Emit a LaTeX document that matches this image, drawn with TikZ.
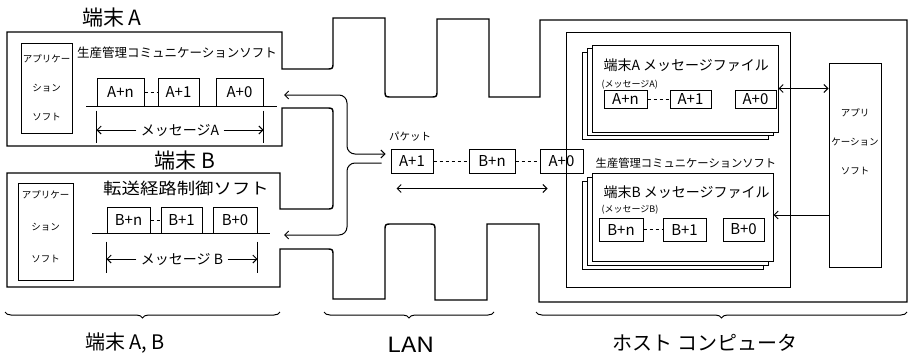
\documentclass[tikz,border=0pt]{standalone}
\usepackage{fontspec}
\setmainfont{Noto Sans CJK JP}
\usetikzlibrary{arrows.meta,positioning,decorations.pathreplacing}

\tikzset{
  pkt/.style={draw,fill=white,line width=1pt,inner sep=0pt,font=\fontsize{15}{15}\selectfont},
  appbox/.style={draw,line width=1pt,inner sep=0pt},
  apptxt/.style={align=center,inner sep=0pt},
  sheet/.style={draw,fill=white,line width=1pt},
  lbl/.style={inner sep=0pt},
  wall/.style={line width=1.4pt},
  brc/.style={decorate,decoration={brace,mirror,amplitude=6pt},line width=1pt},
}
\newcommand{\fs}[1]{\fontsize{#1}{#1}\selectfont}

\begin{document}
\begin{tikzpicture}[x=1pt,y=-1pt,>={Straight Barb[length=4pt,width=8pt]},line width=1pt]
  \useasboundingbox (0,0) rectangle (912,356);
  % terminals, LAN and host wall
  \draw[wall] (7,32) -- (7,146) -- (282,146) -- (282,108)
    -- (326,108) .. controls (333,108) .. (333,115)
    -- (333,202) .. controls (333,209) .. (326,209)
    -- (280,209) -- (280,173) -- (7,173) -- (7,287) -- (280,287) -- (280,249)
    -- (326,249) .. controls (333,249) .. (333,256)
    -- (333,299) -- (385,299)
    -- (385,231) .. controls (385,224) .. (392,224)
    -- (428,224) .. controls (435,224) .. (435,231)
    -- (435,300) -- (487,300) -- (487,224) -- (539,224) -- (539,302) -- (907,302)
    -- (907,20) -- (540,20) -- (540,97) -- (489,97) -- (489,19) -- (437,19)
    -- (437,90) .. controls (437,97) .. (430,97)
    -- (392,97) .. controls (385,97) .. (385,90)
    -- (385,18) -- (333,18)
    -- (333,62) .. controls (333,69) .. (326,69)
    -- (282,69) -- (282,32) -- cycle;

  % terminal A
  \node[lbl,font=\fs{21}] (nameA) at (112,18) {端末 A};
  \node[appbox,minimum width=51,minimum height=90] (appA) at (46.5,88) {};
  \node[apptxt,font=\fontsize{9.5}{29}\selectfont] at (appA) {アプリケー\\ション\\ソフト};
  \node[lbl,font=\fs{12.5}] (softA) at (177,53) {生産管理コミュニケーションソフト};
  \node[pkt,minimum width=47,minimum height=28] (tAn) at (120.5,92) {A+n};
  \node[pkt,minimum width=41,minimum height=28] (tA1) at (178.5,92) {A+1};
  \node[pkt,minimum width=47,minimum height=28] (tA0) at (239.5,92) {A+0};
  \draw (86,106) -- (277,106);
  \draw[dashed] (tAn) -- (tA1);
  \draw ([yshift=-4pt]tAn.south west) -- ++(0,32);
  \draw ([yshift=-4pt]tA0.south east) -- ++(0,32);
  \node[lbl,font=\fs{14}] (msgA) at (180,130) {メッセージA};
  \draw[->] ([xshift=-4pt]msgA.west) -- (msgA.west -| tAn.west);
  \draw[->] ([xshift=4pt]msgA.east) -- (msgA.east -| tA0.east);

  % terminal B
  \node[lbl,font=\fs{21}] (nameB) at (185,161) {端末 B};
  \node[appbox,minimum width=55,minimum height=97] (appB) at (45.5,231.5) {};
  \node[apptxt,font=\fontsize{9.5}{32}\selectfont] at (45.5,227) {アプリケー\\ション\\ソフト};
  \node[lbl,font=\fs{16}] (softB) at (186,188) {\scalebox{1.15}[1]{転送経路制御ソフト}};
  \node[pkt,minimum width=43,minimum height=26] (tBn) at (128.5,220) {B+n};
  \node[pkt,minimum width=41,minimum height=26] (tB1) at (181.5,220) {B+1};
  \node[pkt,minimum width=44,minimum height=26] (tB0) at (235,220) {B+0};
  \draw (92,233) -- (270,233);
  \draw[dashed] (tBn) -- (tB1);
  \draw ([yshift=-8pt]tBn.south west) -- ++(0,31);
  \draw ([yshift=-8pt]tB0.south east) -- ++(0,31);
  \node[lbl,font=\fs{14}] (msgB) at (182,259) {メッセージ B};
  \draw[->] ([xshift=-4pt]msgB.west) -- (msgB.west -| tBn.west);
  \draw[->] ([xshift=4pt]msgB.east) -- (msgB.east -| tB0.east);

  % LAN
  \coordinate (gateA) at (284,95);
  \coordinate (gateB) at (284,235);
  \node[lbl,font=\fs{10.5}] (pktlbl) at (410,137) {パケット};
  \node[pkt,minimum width=42,minimum height=24] (lA1) at (412,161) {A+1};
  \node[pkt,minimum width=46,minimum height=24] (lBn) at (492,161) {B+n};
  \node[pkt,minimum width=43,minimum height=24] (lA0) at (561.5,161) {A+0};
  \draw[dashed] (lA1) -- (lBn);
  \draw[dashed] (lBn) -- (lA0);
  \draw[<->,rounded corners=8pt] (gateA) -- (347,95) -- (347,154) -- ([xshift=-5pt,yshift=7pt]lA1.west);
  \draw[->,rounded corners=8pt] ([xshift=-9pt,yshift=-2pt]lA1.west) -- (347,163) -- (347,235) -- (gateB);
  \draw[<->] ([xshift=6pt,yshift=-15pt]lA1.south west) -- ([xshift=8pt,yshift=-15pt]lA0.south west);

  % host computer
  \draw (566,32) rectangle (790,287);
  \foreach \d in {10,5} {
    \draw[sheet] (592-\d,45+0.7*\d) rectangle +(186,87);
    \draw[sheet] (592-\d,173+0.8*\d) rectangle +(181,88);
  }
  \node[sheet,minimum width=186,minimum height=87,inner sep=0pt] (fileA) at (685,88.5) {};
  \node[sheet,minimum width=181,minimum height=88,inner sep=0pt] (fileB) at (682.5,217) {};
  \node[lbl,anchor=west,font=\fs{14}] at (603,65) {端末A メッセージファイル};
  \node[lbl,anchor=west,font=\fs{9}] at (601,85) {(メッセージA)};
  \node[pkt,minimum width=43,minimum height=18] (hAn) at (625.5,99) {A+n};
  \node[pkt,minimum width=41,minimum height=18] (hA1) at (690.5,99) {A+1};
  \node[pkt,minimum width=41,minimum height=18] (hA0) at (755.5,99) {A+0};
  \draw[dashed] (hAn) -- (hA1);
  \node[lbl,font=\fs{11.3}] (softH) at (686,163) {生産管理コミュニケーションソフト};
  \node[lbl,anchor=west,font=\fs{14}] at (603,192) {端末B メッセージファイル};
  \node[lbl,anchor=west,font=\fs{9}] at (601,210) {(メッセージB)};
  \node[pkt,minimum width=44,minimum height=23] (hBn) at (621,229.5) {B+n};
  \node[pkt,minimum width=43,minimum height=23] (hB1) at (684.5,229.5) {B+1};
  \node[pkt,minimum width=41,minimum height=23] (hB0) at (743.5,229.5) {B+0};
  \draw[dashed] (hBn) -- (hB1);
  \node[appbox,minimum width=52,minimum height=204] (appH) at (855,165) {};
  \node[apptxt,font=\fontsize{9.5}{29}\selectfont] at (855,142) {アプリ\\ケーション\\ソフト};
  \draw[<->] (fileA.east) -- (fileA.east -| appH.west);
  \draw[->] ([yshift=2pt]fileB.east -| appH.west) -- ([yshift=2pt]fileB.east);

  % braces
  \draw[brc] (5,312) -- (280,312);
  \draw[brc] (324,312) -- (494,312);
  \draw[brc] (536,312) -- (907,312);
  \node[lbl,font=\fs{20}] (capT) at (125,343) {端末 A, B};
  \node[lbl,font=\fs{21}] (capL) at (411,345) {\scalebox{1.2}[1]{LAN}};
  \node[lbl,font=\fs{20}] (capH) at (705,343) {ホスト コンピュータ};
\end{tikzpicture}
\end{document}
